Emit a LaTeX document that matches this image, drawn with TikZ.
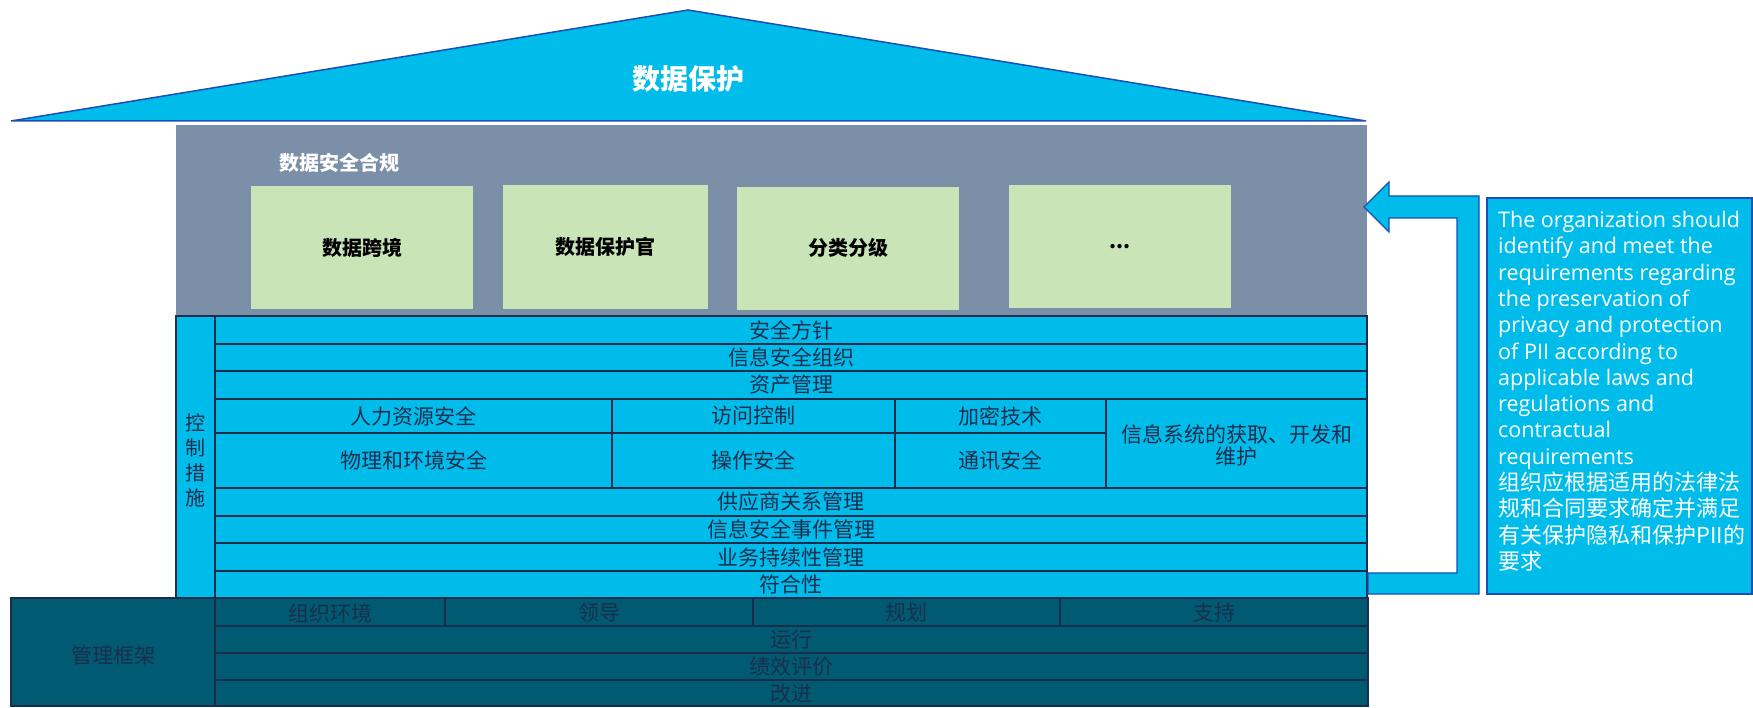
\documentclass[tikz,border=0pt]{standalone}
\usepackage{fontspec}
\setmainfont{Noto Sans CJK SC}
\newfontfamily\latinfont{Open Sans}
\usetikzlibrary{calc}
\definecolor{skyblue}{HTML}{00BCEB}
\definecolor{roofline}{HTML}{1B4FB3}
\definecolor{slategrey}{HTML}{7B8FA9}
\definecolor{palegreen}{HTML}{C9E4B7}
\definecolor{navy}{HTML}{1B2C4C}
\definecolor{deepteal}{HTML}{005A72}
\definecolor{inktext}{HTML}{1C2E4E}
\tikzset{
  ctrl/.style={draw=navy, line width=1.4pt, fill=skyblue},
  mgmt/.style={draw=navy, line width=1.4pt, fill=deepteal},
  cell/.style={text=inktext, font=\fontsize{21}{22}\selectfont, inner sep=0pt, align=center},
  compl/.style={fill=palegreen, draw=none},
  greentext/.style={text=black, font=\fontsize{20}{20}\selectfont\bfseries, inner sep=0pt},
  bluebox/.style={draw=roofline, line width=1.2pt, fill=skyblue, line join=miter},
}

\begin{document}
\begin{tikzpicture}[x=10pt,y=10pt]
			%%%%% START %%%%%
			\useasboundingbox (0,0) rectangle (175.3,70.7);
			
			% roof
			\draw[bluebox, line width=1.5pt] (1.1,58.6) -- (68.8,69.7) -- (136.6,58.6) -- cycle;
			\node[text=white, font=\fontsize{28}{28}\selectfont\bfseries, inner sep=0pt] (roof) at (68.8,62.8) {数据保护};
			
			% data compliance
			\draw[fill=slategrey, draw=none] (17.6,39.1) rectangle (136.7,58.2);
			\node[text=white, font=\fontsize{20}{20}\selectfont\bfseries, inner sep=0pt] (hegui) at (33.9,54.4) {数据安全合规};
			
			\draw[compl] (25.1,39.8) rectangle (47.3,52.1);
			\node[greentext] (kuajing) at (36.2,45.9) {数据跨境};
			\draw[compl] (50.3,39.8) rectangle (70.8,52.2);
			\node[greentext] (dpo) at (60.5,46.0) {数据保护官};
			\draw[compl] (73.7,39.7) rectangle (95.9,52.0);
			\node[greentext] (fenji) at (84.8,45.9) {分类分级};
			\draw[compl] (100.9,39.9) rectangle (123.1,52.2);
			\node[greentext] (more) at (112.0,46.0) {...};
			
			% controls
			\draw[ctrl] (17.6,10.9) rectangle (21.5,39.1);
			\node[cell, font=\fontsize{20}{25}\selectfont] (kongzhi) at (19.55,24.7) {控\\制\\措\\施};
			
			\draw[ctrl] (21.5,36.3) rectangle (136.7,39.1);
			\node[cell] (fangzhen) at (79.1,37.7) {安全方针};
			\draw[ctrl] (21.5,33.6) rectangle (136.7,36.3);
			\node[cell] (zuzhi) at (79.1,34.95) {信息安全组织};
			\draw[ctrl] (21.5,30.8) rectangle (136.7,33.6);
			\node[cell] (zichan) at (79.1,32.2) {资产管理};
			
			\draw[ctrl] (21.5,27.4) rectangle (61.2,30.8);
			\node[cell] (renli) at (41.35,29.1) {人力资源安全};
			\draw[ctrl] (61.2,27.4) rectangle (89.5,30.8);
			\node[cell] (fangwen) at (75.35,29.1) {访问控制};
			\draw[ctrl] (89.5,27.4) rectangle (110.6,30.8);
			\node[cell] (jiami) at (100.05,29.1) {加密技术};
			
			\draw[ctrl] (21.5,21.9) rectangle (61.2,27.4);
			\node[cell] (wuli) at (41.35,24.65) {物理和环境安全};
			\draw[ctrl] (61.2,21.9) rectangle (89.5,27.4);
			\node[cell] (caozuo) at (75.35,24.65) {操作安全};
			\draw[ctrl] (89.5,21.9) rectangle (110.6,27.4);
			\node[cell] (tongxun) at (100.05,24.65) {通讯安全};
			
			\draw[ctrl] (110.6,21.9) rectangle (136.7,30.8);
			\node[cell] (xitong) at (123.65,26.2) {信息系统的获取、开发和\\维护};
			
			\draw[ctrl] (21.5,19.1) rectangle (136.7,21.9);
			\node[cell] (gongying) at (79.1,20.5) {供应商关系管理};
			\draw[ctrl] (21.5,16.4) rectangle (136.7,19.1);
			\node[cell] (shijian) at (79.1,17.75) {信息安全事件管理};
			\draw[ctrl] (21.5,13.6) rectangle (136.7,16.4);
			\node[cell] (yewu) at (79.1,15.0) {业务持续性管理};
			\draw[ctrl] (21.5,10.9) rectangle (136.7,13.6);
			\node[cell] (fuhe) at (79.1,12.25) {符合性};
			
			% management framework
			\draw[mgmt, line width=2pt] (1.1,0.1) rectangle (21.5,10.9);
			\node[cell] (kuangjia) at (11.3,5.2) {管理框架};
			
			\draw[mgmt] (21.5,8.1) rectangle (44.5,10.9);
			\node[cell] (huanjing) at (33.0,9.4) {组织环境};
			\draw[mgmt] (44.5,8.1) rectangle (75.3,10.9);
			\node[cell] (lingdao) at (59.9,9.4) {领导};
			\draw[mgmt] (75.3,8.1) rectangle (106.0,10.9);
			\node[cell] (guihua) at (90.65,9.4) {规划};
			\draw[mgmt] (106.0,8.1) rectangle (136.8,10.9);
			\node[cell] (zhichi) at (121.4,9.4) {支持};
			
			\draw[mgmt] (21.5,5.4) rectangle (136.8,8.1);
			\node[cell] (yunxing) at (79.15,6.7) {运行};
			\draw[mgmt] (21.5,2.7) rectangle (136.8,5.4);
			\node[cell] (jixiao) at (79.15,4.0) {绩效评价};
			\draw[mgmt, line width=2pt] (21.5,0.1) rectangle (136.8,2.7);
			\node[cell] (gaijin) at (79.15,1.35) {改进};
			
			% arrow back up to compliance
			\draw[bluebox] (136.8,11.3) -- (147.9,11.3) -- (147.9,51.1) -- (138.9,51.1) -- (138.9,52.5)
			  -- (136.4,50.0) -- (138.9,47.5) -- (138.9,48.9) -- (145.7,48.9) -- (145.7,13.4) -- (136.8,13.4) -- cycle;
			
			% note
			\draw[bluebox] (148.7,11.3) rectangle (175.2,50.9);
			\node[anchor=north west, align=left, text=white, inner sep=0pt, font=\latinfont\fontsize{21.5}{26.3}\selectfont] (note) at (149.8,49.6)
			  {The organization should\\identify and meet the\\requirements regarding\\the preservation of\\privacy and protection\\of PII according to\\applicable laws and\\regulations and\\contractual\\requirements\\
			  {\rmfamily\fontsize{22}{26.3}\selectfont 组织应根据适用的法律法}\\{\rmfamily\fontsize{22}{26.3}\selectfont 规和合同要求确定并满足}\\{\rmfamily\fontsize{22}{26.3}\selectfont 有关保护隐私和保护PII的}\\{\rmfamily\fontsize{22}{26.3}\selectfont 要求}};
			
			%%%%% END %%%%%
\end{tikzpicture}
\end{document}
